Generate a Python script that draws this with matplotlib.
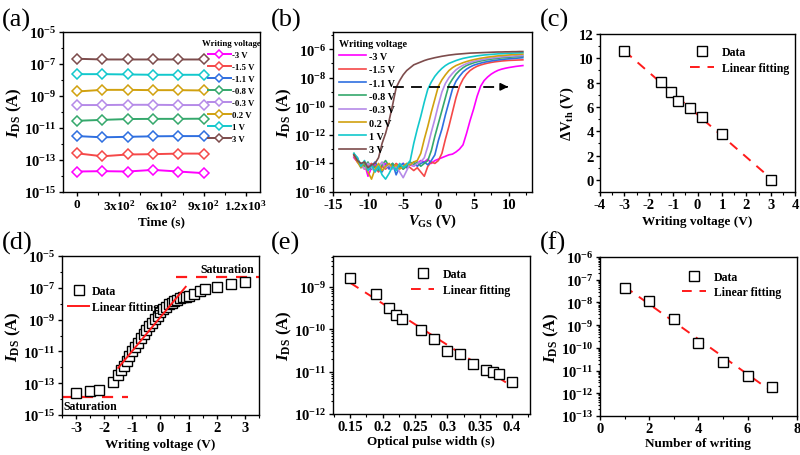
import numpy as np
import matplotlib
matplotlib.use('Agg')
import matplotlib.pyplot as plt
from matplotlib.ticker import (LogLocator, MultipleLocator, NullFormatter, FormatStrFormatter,
                               FuncFormatter, FixedLocator)

plt.rcParams['font.family'] = ['Liberation Serif', 'DejaVu Serif']
plt.rcParams['font.weight'] = 'bold'
plt.rcParams['axes.labelweight'] = 'bold'
plt.rcParams['axes.unicode_minus'] = False
plt.rcParams['mathtext.fontset'] = 'custom'
plt.rcParams['mathtext.rm'] = 'Liberation Serif:bold'
plt.rcParams['mathtext.it'] = 'Liberation Serif:italic:bold'
plt.rcParams['mathtext.bf'] = 'Liberation Serif:bold'

# ---------- (a) retention at different writing voltages ----------
time_a = [0, 180, 360, 540, 720, 900]
labels_v = ['-3 V', '-1.5 V', '-1.1 V', '-0.8 V', '-0.3 V', '0.2 V', '1 V', '3 V']
colors_v = ['#ff00ff', '#f54848', '#2f6fe0', '#35a86c', '#b58ae8', '#d1a10f', '#12c8cc', '#7d4c4c']
ids_a_m3 = [1.9e-14, 2.0e-14, 1.9e-14, 2.4e-14, 1.9e-14, 1.5e-14]
ids_a_m15 = [2.6e-13, 1.7e-13, 2.2e-13, 2.3e-13, 2.5e-13, 2.5e-13]
ids_a_m11 = [3.1e-12, 2.6e-12, 2.8e-12, 3.0e-12, 3.1e-12, 3.1e-12]
ids_a_m08 = [2.8e-11, 3.2e-11, 3.6e-11, 3.7e-11, 3.7e-11, 3.8e-11]
ids_a_m03 = [2.7e-10, 2.7e-10, 2.8e-10, 2.8e-10, 2.7e-10, 2.7e-10]
ids_a_02 = [1.9e-9, 2.4e-9, 2.4e-9, 2.3e-9, 2.3e-9, 2.2e-9]
ids_a_1 = [2.3e-8, 2.3e-8, 2.2e-8, 2.1e-8, 2.1e-8, 2.1e-8]
ids_a_3 = [2.1e-7, 1.9e-7, 1.9e-7, 1.9e-7, 1.9e-7, 1.9e-7]

# ---------- (b) transfer curves, log10(I_DS) ----------
vgs = np.linspace(-12, 12, 49)
logi_m3 = [-13.6, -13.9, -14.2, -14.0, -14.9, -14.3, -14.1, -14.4, -14.2, -14.0, -14.3, -14.1,
           -14.4, -14.2, -14.0, -14.3, -14.1, -14.2, -14.0, -13.8, -13.9, -13.7, -14.0, -13.8,
           -13.7, -13.6, -13.5, -13.4, -13.35, -13.2, -13.0, -12.7, -11.9, -11.0, -10.2, -9.3,
           -8.6, -8.2, -7.95, -7.75, -7.6, -7.48, -7.4, -7.34, -7.29, -7.25, -7.21, -7.18, -7.15]
logi_m15 = [-13.5, -13.9, -14.1, -14.4, -14.2, -14.0, -14.3, -14.6, -14.2, -14.4, -14.1, -14.3,
            -14.0, -14.2, -14.4, -14.1, -14.3, -14.5, -14.3, -14.6, -14.9, -14.2, -13.9, -14.0,
            -13.8, -13.3, -12.3, -11.4, -10.4, -9.4, -8.6, -8.1, -7.75, -7.5, -7.33, -7.2,
            -7.11, -7.04, -6.98, -6.93, -6.89, -6.86, -6.83, -6.81, -6.79, -6.78, -6.77, -6.76, -6.75]
logi_m11 = [-13.4, -13.6, -14.3, -14.0, -14.5, -14.2, -13.9, -14.3, -14.6, -14.1, -14.4, -14.0,
            -14.8, -14.2, -14.0, -14.3, -14.1, -13.9, -14.2, -14.0, -13.9, -14.1, -13.8, -13.4,
            -12.4, -11.6, -10.6, -9.7, -8.8, -8.25, -7.9, -7.6, -7.4, -7.25, -7.13, -7.05,
            -6.98, -6.92, -6.87, -6.83, -6.79, -6.76, -6.73, -6.7, -6.68, -6.66, -6.64, -6.62, -6.6]
logi_m08 = [-13.3, -13.8, -14.0, -14.2, -13.9, -14.4, -14.2, -14.5, -14.1, -13.8, -14.2, -14.0,
            -14.3, -14.1, -14.4, -14.2, -13.9, -14.1, -13.9, -14.2, -14.0, -13.8, -13.1, -12.1,
            -11.2, -10.3, -9.4, -8.5, -8.1, -7.75, -7.5, -7.3, -7.15, -7.05, -6.96, -6.89,
            -6.83, -6.78, -6.74, -6.7, -6.67, -6.64, -6.61, -6.59, -6.57, -6.55, -6.53, -6.52, -6.5]
logi_m03 = [-13.5, -13.7, -14.1, -14.4, -14.0, -14.3, -14.6, -14.2, -13.9, -14.3, -14.1, -14.4,
            -14.2, -14.6, -15.0, -14.5, -14.0, -14.2, -14.0, -13.9, -13.6, -12.8, -11.8, -10.9,
            -9.9, -9.0, -8.4, -8.0, -7.7, -7.45, -7.27, -7.13, -7.02, -6.93, -6.86, -6.8,
            -6.75, -6.7, -6.66, -6.63, -6.6, -6.57, -6.54, -6.52, -6.5, -6.49, -6.47, -6.46, -6.45]
logi_02 = [-13.4, -13.9, -14.3, -13.9, -14.6, -15.1, -14.4, -14.0, -14.5, -14.2, -14.0, -14.3,
           -14.1, -14.4, -14.2, -14.0, -14.1, -13.9, -13.8, -13.3, -12.3, -11.4, -10.4, -9.5,
           -8.6, -8.15, -7.8, -7.5, -7.3, -7.15, -7.05, -6.95, -6.87, -6.8, -6.74, -6.69,
           -6.64, -6.6, -6.56, -6.53, -6.5, -6.47, -6.45, -6.43, -6.41, -6.39, -6.38, -6.36, -6.35]
logi_1 = [-13.3, -13.6, -14.2, -13.8, -14.5, -14.1, -14.6, -14.2, -14.8, -15.1, -14.7, -14.2,
          -14.5, -14.0, -14.3, -14.1, -13.8, -12.6, -11.6, -10.7, -9.7, -8.8, -8.3, -7.9,
          -7.6, -7.35, -7.15, -7.0, -6.9, -6.8, -6.72, -6.65, -6.6, -6.55, -6.51, -6.47,
          -6.44, -6.41, -6.39, -6.37, -6.35, -6.33, -6.32, -6.3, -6.29, -6.28, -6.27, -6.26, -6.25]
logi_3 = [-13.4, -13.8, -14.0, -13.9, -14.3, -14.1, -14.0, -13.6, -12.6, -11.9, -11.0, -9.9,
          -8.7, -8.2, -7.8, -7.5, -7.3, -7.1, -7.0, -6.9, -6.8, -6.72, -6.66, -6.6,
          -6.55, -6.5, -6.46, -6.42, -6.39, -6.36, -6.34, -6.32, -6.3, -6.28, -6.27, -6.26,
          -6.25, -6.24, -6.23, -6.22, -6.21, -6.2, -6.2, -6.19, -6.19, -6.18, -6.18, -6.17, -6.17]
arrow_b = (-6.4, 10.3, 2.3e-9)

# ---------- (c) threshold shift ----------
wv_c = [-3, -1.5, -1.1, -0.8, -0.3, 0.2, 1, 3]
dvth_c = [10.6, 8.05, 7.25, 6.5, 5.9, 5.15, 3.8, 0.0]

# ---------- (d) current vs writing voltage ----------
wv_d = [-3.0, -2.5, -2.2, -1.7, -1.5, -1.4, -1.3, -1.2, -1.1, -1.0, -0.9, -0.8, -0.7, -0.6,
        -0.5, -0.4, -0.3, -0.2, -0.1, 0.0, 0.1, 0.2, 0.3, 0.4, 0.5, 0.6, 0.7, 0.8, 0.9, 1.0,
        1.2, 1.4, 1.6, 2.0, 2.5, 3.0]
logi_d = [-13.63, -13.52, -13.42, -12.94, -12.46, -12.2, -11.9, -11.6, -11.3, -11.0, -10.7,
          -10.45, -10.15, -9.9, -9.65, -9.4, -9.2, -8.95, -8.75, -8.55, -8.35, -8.2, -8.05,
          -7.95, -7.85, -7.75, -7.67, -7.6, -7.55, -7.5, -7.42, -7.21, -7.1, -6.94, -6.79, -6.63]
fit_range_d = (-1.5, 0.9)
sat_high = 4.9e-7
sat_low = 1.4e-14

# ---------- (e) optical pulse width ----------
pw_e = [0.15, 0.19, 0.21, 0.22, 0.23, 0.26, 0.28, 0.30, 0.32, 0.34, 0.36, 0.37, 0.38, 0.40]
ids_e = [1.6e-9, 6.6e-10, 3.2e-10, 2.2e-10, 1.7e-10, 9.6e-11, 5.8e-11, 3.1e-11, 2.6e-11,
         1.5e-11, 1.1e-11, 9.6e-12, 8.6e-12, 5.6e-12]

# ---------- (f) number of writing ----------
nw_f = [1, 2, 3, 4, 5, 6, 7]
ids_f = [4.4e-8, 1.2e-8, 1.9e-9, 1.7e-10, 2.5e-11, 5.7e-12, 1.9e-12]

odd_decades = [1e-15, 1e-13, 1e-11, 1e-9, 1e-7, 1e-5]
even_decades = [1e-16, 1e-14, 1e-12, 1e-10, 1e-8, 1e-6]


fig = plt.figure(figsize=(8, 4.56), dpi=100)
ax_a = fig.add_axes([0.0788, 0.5768, 0.246, 0.351])
ax_b = fig.add_axes([0.416, 0.5768, 0.249, 0.351])
ax_c = fig.add_axes([0.75, 0.5768, 0.244, 0.3465])
ax_d = fig.add_axes([0.0775, 0.0877, 0.246, 0.3487])
ax_e = fig.add_axes([0.416, 0.0899, 0.246, 0.3465])
ax_f = fig.add_axes([0.75, 0.0855, 0.246, 0.3487])

TICK = 10.5
XLAB = 9.5
YLAB = 12
LEG = 8.5
RED = '#ff1a1a'


def style(ax):
    ax.tick_params(which='major', direction='out', length=3, width=1, labelsize=TICK,
                   top=False, right=False)
    ax.tick_params(axis='x', which='major', pad=1)
    ax.tick_params(axis='y', which='major', pad=1.5)
    ax.tick_params(which='minor', direction='out', length=1.8, width=0.8, top=False, right=False)
    for s in ax.spines.values():
        s.set_linewidth(1)


pow_fmt = FuncFormatter(lambda v, p: r'$\mathrm{10^{%d}}$' % int(round(np.log10(v))))


def log_ticks(ax, majors):
    ax.yaxis.set_major_locator(FixedLocator(majors))
    ax.yaxis.set_minor_locator(LogLocator(base=10, subs=(1.0,), numticks=40))
    ax.yaxis.set_major_formatter(pow_fmt)
    ax.yaxis.set_minor_formatter(NullFormatter())


def log_ticks_full(ax):
    ax.yaxis.set_major_locator(LogLocator(base=10, numticks=20))
    ax.yaxis.set_minor_locator(LogLocator(base=10, subs=np.arange(2, 10), numticks=40))
    ax.yaxis.set_major_formatter(pow_fmt)
    ax.yaxis.set_minor_formatter(NullFormatter())


ids_label = r'$\mathit{I}_{\rm DS}$ (A)'

# (a)
series_a = [ids_a_m3, ids_a_m15, ids_a_m11, ids_a_m08, ids_a_m03, ids_a_02, ids_a_1, ids_a_3]
for vals, lab, col in zip(series_a, labels_v, colors_v):
    ax_a.plot(time_a, vals, color=col, lw=1.4, marker='D', ms=5.5, mfc='white',
              mec=col, mew=1.1, label=lab)
ax_a.set_yscale('log')
ax_a.set_ylim(1e-15, 1e-5)
ax_a.set_xlim(-100, 1300)
log_ticks(ax_a, odd_decades)
ax_a.set_xticks([0, 300, 600, 900, 1200],
                ['0', r'3x10$^{2}$', r'6x10$^{2}$', r'9x10$^{2}$', r'1.2x10$^{3}$'])
ax_a.xaxis.set_minor_locator(MultipleLocator(150))
ax_a.set_xlabel('Time (s)', fontsize=XLAB, labelpad=2)
ax_a.set_ylabel(ids_label, fontsize=YLAB, labelpad=0)
style(ax_a)
ax_a.tick_params(axis='x', labelsize=9.5)
ax_a.legend(loc='upper right', bbox_to_anchor=(1.03, 0.99), frameon=False, fontsize=6.3,
            title='Writing voltage', title_fontproperties={'weight': 'bold', 'size': 6.3},
            handlelength=2.6, labelspacing=0.45, handletextpad=0.15, borderaxespad=0.2,
            numpoints=1, markerscale=0.75)

# (b)
series_b = [logi_m3, logi_m15, logi_m11, logi_m08, logi_m03, logi_02, logi_1, logi_3]
for vals, lab, col in zip(series_b, labels_v, colors_v):
    ax_b.plot(vgs, 10 ** np.array(vals), color=col, lw=1.2, label=lab)
ax_b.plot([arrow_b[0], arrow_b[1] - 0.8], [arrow_b[2], arrow_b[2]], color='black', lw=1.3,
          ls=(0, (6, 4)))
ax_b.annotate('', xy=(arrow_b[1], arrow_b[2]), xytext=(arrow_b[1] - 1.0, arrow_b[2]),
              arrowprops=dict(arrowstyle='-|>', color='black', lw=1.2, mutation_scale=11))
ax_b.set_yscale('log')
ax_b.set_ylim(1e-16, 1.6e-5)
ax_b.set_xlim(-15, 13.3)
log_ticks(ax_b, even_decades)
ax_b.set_xticks([-15, -10, -5, 0, 5, 10])
ax_b.xaxis.set_minor_locator(MultipleLocator(2.5))
ax_b.set_xlabel(r'$\mathit{V}_{\rm GS}$ (V)', fontsize=10.5, labelpad=1)
ax_b.set_ylabel(ids_label, fontsize=YLAB, labelpad=0)
style(ax_b)
ax_b.legend(loc='upper left', bbox_to_anchor=(0.0, 1.0), frameon=False, fontsize=7.3,
            title='Writing voltage', title_fontproperties={'weight': 'bold', 'size': 7.3},
            handlelength=2.6, labelspacing=0.42, handletextpad=0.3, borderaxespad=0.25,
            alignment='left')

# (c)
k_c, b_c = np.polyfit(wv_c, dvth_c, 1)
xc = np.array([min(wv_c), max(wv_c)])
ax_c.plot(wv_c, dvth_c, ls='none', marker='s', ms=7, mfc='white', mec='black', mew=1.0,
          label='Data', zorder=3)
ax_c.plot(xc, k_c * xc + b_c, color=RED, lw=1.4, ls=(0, (5, 4)), label='Linear fitting')
ax_c.set_xlim(-4, 4)
ax_c.set_ylim(-1, 12)
ax_c.set_xticks(range(-4, 5))
ax_c.set_yticks(range(0, 13, 2))
ax_c.xaxis.set_minor_locator(MultipleLocator(0.5))
ax_c.yaxis.set_minor_locator(MultipleLocator(1))
ax_c.set_xlabel('Writing voltage (V)', fontsize=XLAB, labelpad=3)
ax_c.set_ylabel(r'$\Delta{\rm V}_{\rm th}$ (V)', fontsize=10.5, labelpad=2)
style(ax_c)
ax_c.legend(loc='upper right', bbox_to_anchor=(1.0, 0.96), frameon=False, fontsize=LEG,
            handlelength=2.0, labelspacing=0.3, handletextpad=0.7, borderaxespad=0.1)

# (d)
wv_d_arr = np.array(wv_d)
logi_d_arr = np.array(logi_d)
mask = (wv_d_arr >= fit_range_d[0]) & (wv_d_arr <= fit_range_d[1])
k_d, b_d = np.polyfit(wv_d_arr[mask], logi_d_arr[mask], 1)
xd = np.array(fit_range_d)
ax_d.plot(wv_d_arr, 10 ** logi_d_arr, ls='none', marker='s', ms=7, mfc='white', mec='black',
          mew=1.0, label='Data', zorder=3)
ax_d.plot(xd, 10 ** (k_d * xd + b_d), color=RED, lw=1.4, label='Linear fitting', zorder=4)
ax_d.plot([0.55, 3.5], [sat_high, sat_high], color=RED, lw=1.6, ls=(0, (5, 4)))
ax_d.plot([-3.5, -1.15], [sat_low, sat_low], color=RED, lw=1.6, ls=(0, (5, 4)))
ax_d.text(3.35, 6.5e-7, 'Saturation', ha='right', va='bottom', fontsize=LEG)
ax_d.text(-3.45, 9e-15, 'Saturation', ha='left', va='top', fontsize=LEG)
ax_d.set_yscale('log')
ax_d.set_ylim(1e-15, 1e-5)
ax_d.set_xlim(-3.5, 3.5)
log_ticks(ax_d, odd_decades)
ax_d.set_xticks(range(-3, 4))
ax_d.xaxis.set_minor_locator(MultipleLocator(0.5))
ax_d.set_xlabel('Writing voltage (V)', fontsize=XLAB, labelpad=3)
ax_d.set_ylabel(ids_label, fontsize=YLAB, labelpad=0)
style(ax_d)
ax_d.legend(loc='center left', bbox_to_anchor=(-3.45, 2e-8), bbox_transform=ax_d.transData,
            frameon=False, fontsize=LEG, handlelength=1.8, labelspacing=0.3,
            handletextpad=0.2, borderaxespad=0.0)

# (e)
k_e, b_e = np.polyfit(pw_e, np.log10(ids_e), 1)
xe = np.array([min(pw_e), max(pw_e)])
ax_e.plot(pw_e, ids_e, ls='none', marker='s', ms=7, mfc='white', mec='black', mew=1.0,
          label='Data', zorder=3)
ax_e.plot(xe, 10 ** (k_e * xe + b_e), color=RED, lw=1.4, ls=(0, (5, 4)),
          label='Linear fitting')
ax_e.set_yscale('log')
ax_e.set_ylim(1e-12, 5.3e-9)
ax_e.set_xlim(0.123, 0.427)
log_ticks_full(ax_e)
ax_e.set_xticks([0.15, 0.2, 0.25, 0.3, 0.35, 0.4])
ax_e.xaxis.set_major_formatter(FormatStrFormatter('%g'))
ax_e.xaxis.set_minor_locator(MultipleLocator(0.025))
ax_e.set_xlabel('Optical pulse width (s)', fontsize=XLAB, labelpad=2)
ax_e.set_ylabel(ids_label, fontsize=YLAB, labelpad=0)
style(ax_e)
ax_e.legend(loc='upper right', bbox_to_anchor=(0.93, 0.96), frameon=False, fontsize=LEG,
            handlelength=2.0, labelspacing=0.3, handletextpad=0.7, borderaxespad=0.1)

# (f)
k_f, b_f = np.polyfit(nw_f, np.log10(ids_f), 1)
xf = np.array([min(nw_f), max(nw_f) - 0.1])
ax_f.plot(nw_f, ids_f, ls='none', marker='s', ms=7, mfc='white', mec='black', mew=1.0,
          label='Data', zorder=3)
ax_f.plot(xf, 10 ** (k_f * xf + b_f), color=RED, lw=1.4, ls=(0, (5, 4)),
          label='Linear fitting')
ax_f.set_yscale('log')
ax_f.set_ylim(1e-13, 1e-6)
ax_f.set_xlim(0, 8)
log_ticks_full(ax_f)
ax_f.set_xticks(range(0, 9, 2))
ax_f.xaxis.set_minor_locator(MultipleLocator(1))
ax_f.set_xlabel('Number of writing', fontsize=XLAB, labelpad=2)
ax_f.set_ylabel(ids_label, fontsize=YLAB, labelpad=0)
style(ax_f)
ax_f.legend(loc='upper right', bbox_to_anchor=(0.95, 0.95), frameon=False, fontsize=LEG,
            handlelength=2.0, labelspacing=0.3, handletextpad=0.7, borderaxespad=0.1)

for lab, x, y in [('(a)', 0.002, 0.93), ('(b)', 0.338, 0.93), ('(c)', 0.675, 0.93),
                  ('(d)', 0.002, 0.44), ('(e)', 0.338, 0.44), ('(f)', 0.675, 0.44)]:
    fig.text(x, y, lab, fontsize=19, fontweight='normal', ha='left', va='bottom')

fig.savefig('out.png', dpi=100)
